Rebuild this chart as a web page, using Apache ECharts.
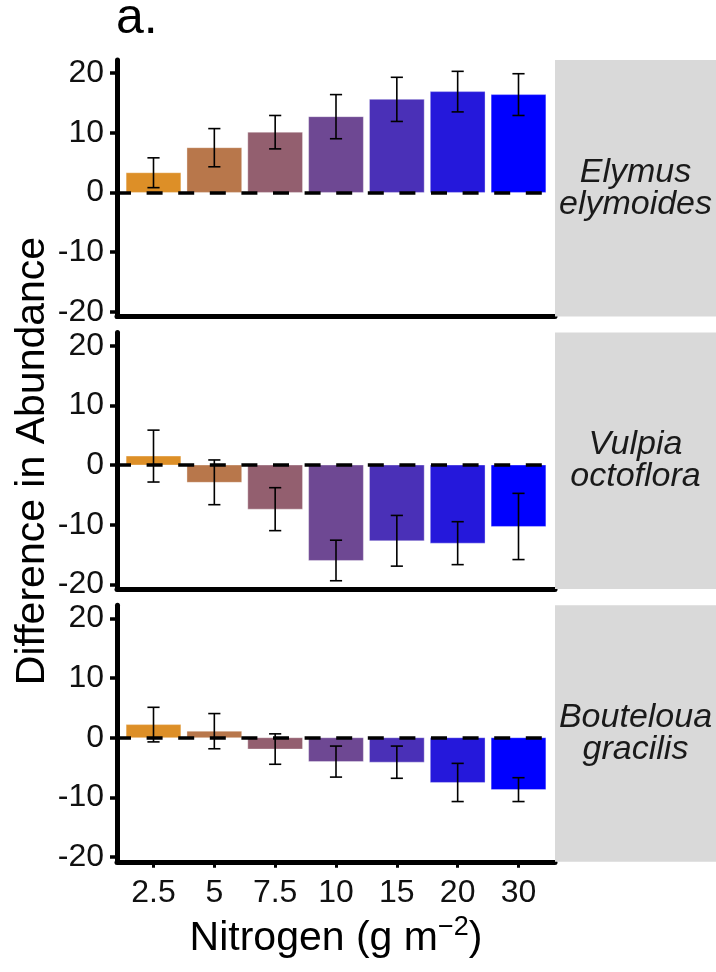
<!DOCTYPE html>
<html><head><meta charset="utf-8">
<script src="https://cdn.jsdelivr.net/npm/echarts@6/dist/echarts.min.js"></script>
<style>html,body{margin:0;padding:0;background:#fff}#c{width:716px;height:972px}</style>
</head><body><div id="c"></div>
<script>
// ---- data ----
const categories = ['2.5','5','7.5','10','15','20','30'];
const speciesLabels = ['Elymus\nelymoides','Vulpia\noctoflora','Bouteloua\ngracilis'];
const elymusMean = [3.3, 7.5, 10.1, 12.7, 15.6, 16.9, 16.4];
const elymusSE   = [2.5, 3.2, 2.8, 3.7, 3.7, 3.4, 3.5];
const vulpiaMean = [1.5, -2.9, -7.4, -16.0, -12.7, -13.1, -10.3];
const vulpiaSE   = [4.35, 3.75, 3.6, 3.4, 4.25, 3.6, 5.55];
const boutelouaMean = [2.2, 1.1, -1.9, -4.0, -4.1, -7.5, -8.7];
const boutelouaSE   = [2.9, 2.95, 2.55, 2.6, 2.7, 3.2, 2.0];
const yTicks = [-20, -10, 0, 10, 20];

// ---- style ----
const barColors = ['#DD8F27','#B8774B','#935F6F','#6E4893','#4A30B7','#2518DB','#0000FF'];
const FONT = '"Liberation Sans", Arial, sans-serif';
const GL = 117, GR = 161, PH = 256.5, tops = [60, 332.6, 605.3];
const YMIN = -20.8, YMAX = 22.2, XMIN = 0.4, XMAX = 7.6;
const xPos = categories.map((c, i) => i + 1);

const panels = [
  {mean: elymusMean, se: elymusSE, label: speciesLabels[0]},
  {mean: vulpiaMean, se: vulpiaSE, label: speciesLabels[1]},
  {mean: boutelouaMean, se: boutelouaSE, label: speciesLabels[2]}
];

const chart = echarts.init(document.getElementById('c'), null, {renderer: 'canvas'});

const grid = tops.map(t => ({left: GL, right: GR, top: t, height: PH}));
const xAxis = tops.map((t, i) => ({
  gridIndex: i, type: 'value', min: XMIN, max: XMAX,
  axisLine: {show: true, onZero: false, lineStyle: {color: '#000', width: 5}},
  axisTick: {show: i === 2, customValues: xPos, length: 6, lineStyle: {color: '#000', width: 3}},
  axisLabel: {show: i === 2, customValues: xPos, formatter: v => categories[Math.round(v) - 1],
              margin: 15, fontSize: 32, color: '#111', fontFamily: FONT},
  splitLine: {show: false}
}));
const yAxis = tops.map((t, i) => ({
  gridIndex: i, type: 'value', min: YMIN, max: YMAX,
  axisLine: {show: true, onZero: false, lineStyle: {color: '#000', width: 5}},
  axisTick: {show: true, customValues: yTicks, length: 7, lineStyle: {color: '#000', width: 3.5}},
  axisLabel: {show: true, customValues: yTicks, margin: 13, fontSize: 32, color: '#111', fontFamily: FONT},
  splitLine: {show: false}
}));

const series = [];
panels.forEach((p, i) => {
  series.push({
    type: 'custom', xAxisIndex: i, yAxisIndex: i, z: 2,
    encode: {x: 0, y: 1},
    data: p.mean.map((m, j) => [xPos[j], m]),
    renderItem: (params, api) => {
      const x = api.value(0), y = api.value(1);
      const p0 = api.coord([x - 0.45, 0]);
      const p1 = api.coord([x + 0.45, y]);
      return {type: 'rect',
        shape: {x: p0[0], y: Math.min(p0[1], p1[1]), width: p1[0] - p0[0], height: Math.abs(p1[1] - p0[1])},
        style: {fill: barColors[params.dataIndex], stroke: 'rgba(255,255,255,0.35)', lineWidth: 1}};
    }
  });
  series.push({
    type: 'line', xAxisIndex: i, yAxisIndex: i, z: 3, data: [],
    markLine: {silent: true, symbol: ['none', 'none'], label: {show: false},
      lineStyle: {color: '#000', width: 3.5, type: [16, 15.6], dashOffset: 2},
      data: [{yAxis: 0}]}
  });
  series.push({
    type: 'custom', xAxisIndex: i, yAxisIndex: i, z: 4,
    encode: {x: 0, y: [1, 2]},
    data: p.mean.map((m, j) => [xPos[j], m - p.se[j], m + p.se[j]]),
    renderItem: (params, api) => {
      const x = api.value(0), lo = api.value(1), hi = api.value(2);
      const top = api.coord([x, hi]), bot = api.coord([x, lo]);
      const hw = api.size([0.1, 0])[0];
      const st = {stroke: '#000', lineWidth: 1.6};
      return {type: 'group', children: [
        {type: 'line', shape: {x1: top[0], y1: top[1], x2: bot[0], y2: bot[1]}, style: st},
        {type: 'line', shape: {x1: top[0] - hw, y1: top[1], x2: top[0] + hw, y2: top[1]}, style: st},
        {type: 'line', shape: {x1: bot[0] - hw, y1: bot[1], x2: bot[0] + hw, y2: bot[1]}, style: st}
      ]};
    }
  });
});

const graphic = [];
tops.forEach((t, i) => {
  graphic.push({type: 'rect', left: 555, top: t, shape: {x: 0, y: 0, width: 161, height: PH},
    style: {fill: '#D9D9D9'}, z: 1});
  graphic.push({type: 'text', x: 635.5, y: t + PH / 2, z: 2,
    style: {text: panels[i].label, fontSize: 34, fontStyle: 'italic', fontFamily: FONT, fill: '#1A1A1A',
      lineHeight: 32, align: 'center', verticalAlign: 'middle', textAlign: 'center', textVerticalAlign: 'middle'}});
});
graphic.push({type: 'text', x: 116, y: 19.7,
  style: {text: 'a.', fontSize: 50, fontFamily: FONT, fill: '#000',
    align: 'left', verticalAlign: 'middle', textAlign: 'left', textVerticalAlign: 'middle'}});
graphic.push({type: 'text', x: 32.8, y: 461, rotation: Math.PI / 2,
  style: {text: 'Difference in Abundance', fontSize: 41, fontFamily: FONT, fill: '#000',
    align: 'center', verticalAlign: 'middle', textAlign: 'center', textVerticalAlign: 'middle'}});
graphic.push({type: 'text', x: 336, y: 938.8,
  style: {text: '{a|Nitrogen (g m}{b|\u22122}{a|)}', fontFamily: FONT, fill: '#000',
    align: 'center', verticalAlign: 'middle', textAlign: 'center', textVerticalAlign: 'middle',
    rich: {a: {fontSize: 41, lineHeight: 50, fontFamily: FONT, fill: '#000', verticalAlign: 'middle'},
           b: {fontSize: 27, lineHeight: 36, fontFamily: FONT, fill: '#000', verticalAlign: 'top'}}}});

chart.setOption({
  animation: false,
  backgroundColor: '#fff',
  grid, xAxis, yAxis, series, graphic
});
</script>
</body></html>
